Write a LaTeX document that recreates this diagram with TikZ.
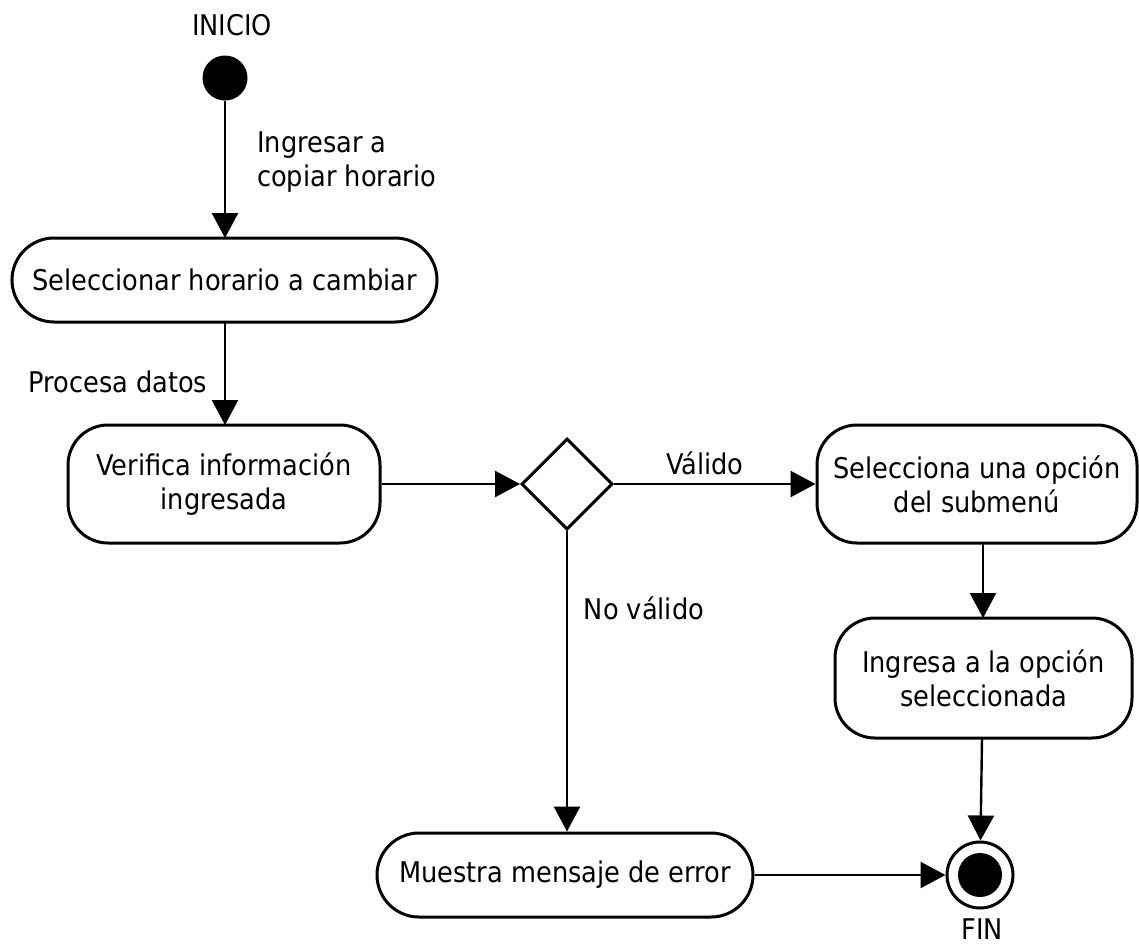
\documentclass[tikz,border=0pt]{standalone}
\usepackage{fontspec}
\setmainfont{DejaVu Sans Condensed}
\usetikzlibrary{shapes.geometric,arrows.meta}
\begin{document}
\begin{tikzpicture}[x=1pt,y=-1pt,
  every node/.style={font=\fontsize{28.5}{34}\selectfont},
  action/.style={draw,line width=3pt,align=center,inner sep=0pt},
  decision/.style={draw,diamond,aspect=1,line width=3pt,inner sep=0pt,minimum width=91pt,minimum height=91pt},
  lbl/.style={inner sep=0pt},
  flow/.style={line width=2.4pt,-{Triangle[length=25pt,width=26pt]}}
]
\useasboundingbox (0,0) rectangle (1139,945);

% start / end
\node[circle,fill=black,minimum size=45pt,inner sep=0pt] (start) at (225,78) {};
\node[lbl] (inicio) at (232,25) {INICIO};
\node[circle,draw,line width=3pt,minimum size=66pt,inner sep=0pt] (end) at (980,875) {};
\node[circle,fill=black,minimum size=44pt,inner sep=0pt] (endin) at (980,875) {};
\node[lbl] (fin) at (982,929) {FIN};

% actions
\node[action,minimum width=425pt,minimum height=84pt,rounded corners=42pt] (n1) at (224.5,280) {Seleccionar horario a cambiar};
\node[action,minimum width=312pt,minimum height=118pt,rounded corners=40pt] (n2) at (224,484) {Verifica información\\ingresada};
\node[decision] (dec) at (567,484) {};
\node[action,minimum width=320pt,minimum height=118pt,rounded corners=40pt] (n3) at (977,484) {Selecciona una opción\\del submenú};
\node[action,minimum width=297pt,minimum height=120pt,rounded corners=40pt] (n4) at (983.5,678) {Ingresa a la opción\\seleccionada};
\node[action,minimum width=376pt,minimum height=84pt,rounded corners=42pt] (n5) at (565,875) {Muestra mensaje de error};

% coordinates for vertical connectors
\coordinate (t1) at (225,238);
\coordinate (s2) at (225,322);
\coordinate (t2) at (225,425);
\coordinate (s3) at (983,543);
\coordinate (t3) at (983,618);
\coordinate (s4) at (982,738);

% connectors
\draw[flow] (start) -- (t1);
\draw[flow] (s2) -- (t2);
\draw[flow] (n2.east) -- (dec.west);
\draw[flow] (dec.east) -- (n3.west);
\draw[flow] (s3) -- (t3);
\draw[flow] (s4) -- (end);
\draw[flow] (dec.south) -- (dec.south |- n5.north);
\draw[flow] (n5.east) -- (end.west);

% labels
\node[lbl,anchor=west,align=left] (l1) at (257,162) {Ingresar a\\copiar horario};
\node[lbl] (l2) at (118,382) {Procesa datos};
\node[lbl] (l3) at (705,463) {Válido};
\node[lbl] (l4) at (644,608) {No válido};
\end{tikzpicture}
\end{document}
